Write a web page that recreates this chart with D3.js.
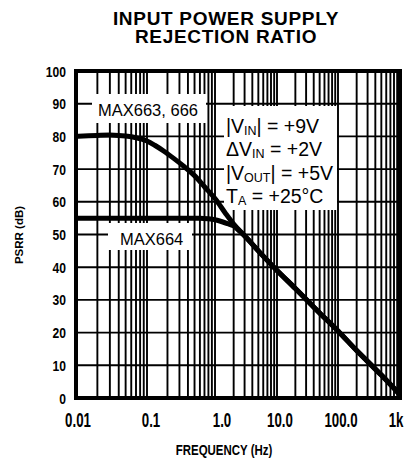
<!DOCTYPE html>
<html>
<head>
<meta charset="utf-8">
<script src="https://cdn.jsdelivr.net/npm/d3@7"></script>
<style>
  body { margin: 0; background: #fff; }
  svg { display: block; }
</style>
</head>
<body>
<svg id="chart"></svg>
<script>
// data
var freqTicks = [0.01, 0.1, 1, 10, 100, 1000];
var freqTickLabels = ['0.01', '0.1', '1.0', '10.0', '100.0', '1k'];
var psrrTicks = [0, 10, 20, 30, 40, 50, 60, 70, 80, 90, 100];

var max663Freq = [0.01, 0.015, 0.02, 0.03, 0.04, 0.05, 0.07, 0.1, 0.13, 0.18, 0.25, 0.35, 0.5, 0.7, 1, 1.5, 2, 3, 5, 10, 20, 50, 100, 200, 500, 1000];
var max663Psrr = [80, 80.2, 80.3, 80.4, 80.3, 80.1, 79.6, 78.6, 77.3, 75.4, 73.2, 70.8, 68, 64.6, 61, 56.3, 53.2, 49.6, 45, 39, 33.5, 26, 20.5, 14.5, 7, 1];

var max664Freq = [0.01, 0.1, 0.3, 0.6, 0.8, 1, 1.3, 1.6, 2, 2.5, 3, 5, 10, 20, 50, 100, 200, 500, 1000];
var max664Psrr = [55, 55, 55, 55, 54.8, 54.5, 53.9, 53.3, 52.6, 51, 49.6, 45, 39, 33.5, 26, 20.5, 14.5, 7, 1];

var W = 412, H = 459;
var sans = "'Liberation Sans', Arial, sans-serif";

var svg = d3.select('#chart').attr('width', W).attr('height', H);

var x = d3.scaleLog().domain(freqTicks).range([76, 147, 215, 277, 338, 400]);
var y = d3.scaleLinear().domain([0, 100]).range([398, 71]);

// condensed bold text, like the datasheet's narrow face
function narrowText(px, py, size, sx, anchor, txt) {
  return svg.append('g')
      .attr('transform', 'translate(' + px + ',' + py + ') scale(' + sx + ',1)')
    .append('text')
      .attr('text-anchor', anchor)
      .attr('font-family', sans)
      .attr('font-weight', 'bold')
      .attr('font-size', size)
      .text(txt);
}

// title
var title = svg.append('text')
    .attr('text-anchor', 'middle')
    .attr('font-family', sans)
    .attr('font-weight', 'bold')
    .attr('font-size', 19)
    .attr('letter-spacing', 0.7);
title.append('tspan').attr('x', 226).attr('y', 25).text('INPUT POWER SUPPLY');
title.append('tspan').attr('x', 226).attr('y', 43).text('REJECTION RATIO');

// grid
var minor = [];
freqTicks.slice(0, -1).forEach(function(d) {
  for (var k = 1; k < 10; k++) minor.push(d * k);
});

var grid = svg.append('g').attr('stroke', '#000').attr('stroke-width', 1.9);
grid.selectAll('.v')
    .data(minor)
    .enter().append('line')
    .attr('class', 'v')
    .attr('x1', function(d) { return x(d); })
    .attr('x2', function(d) { return x(d); })
    .attr('y1', y(0))
    .attr('y2', y(100));

grid.selectAll('.h')
    .data(psrrTicks)
    .enter().append('line')
    .attr('class', 'h')
    .attr('x1', x(0.01))
    .attr('x2', x(1000))
    .attr('y1', function(d) { return y(d); })
    .attr('y2', function(d) { return y(d); });

// label boxes knock out the grid
svg.append('rect').attr('x', 92).attr('y', 94).attr('width', 114).attr('height', 29).attr('fill', '#fff');
svg.append('rect').attr('x', 108).attr('y', 223).attr('width', 84).attr('height', 27).attr('fill', '#fff');
svg.append('rect').attr('x', 224).attr('y', 106).attr('width', 113).attr('height', 104).attr('fill', '#fff');

// frame
svg.append('rect')
    .attr('x', x(0.01))
    .attr('y', y(100))
    .attr('width', x(1000) - x(0.01))
    .attr('height', y(0) - y(100))
    .attr('fill', 'none')
    .attr('stroke', '#000')
    .attr('stroke-width', 4);

// curves
var line = d3.line()
    .x(function(d) { return x(d[0]); })
    .y(function(d) { return y(d[1]); })
    .curve(d3.curveMonotoneX);

svg.append('path')
    .datum(d3.zip(max664Freq, max664Psrr))
    .attr('d', line)
    .attr('fill', 'none')
    .attr('stroke', '#000')
    .attr('stroke-width', 5);

svg.append('path')
    .datum(d3.zip(max663Freq, max663Psrr))
    .attr('d', line)
    .attr('fill', 'none')
    .attr('stroke', '#000')
    .attr('stroke-width', 5);

// y tick labels
psrrTicks.forEach(function(d) {
  narrowText(66, y(d) + 5.5, 15.5, 0.78, 'end', d);
});

// x tick labels
var xLabelShift = [2, 4, 7, 3, 3, -4];
freqTicks.forEach(function(d, i) {
  narrowText(x(d) + xLabelShift[i], 427, 19.5, 0.68, 'middle', freqTickLabels[i]);
});

// axis titles
narrowText(224, 455, 15.5, 0.74, 'middle', 'FREQUENCY (Hz)');

svg.append('text')
    .attr('transform', 'translate(23,235) rotate(-90)')
    .attr('text-anchor', 'middle')
    .attr('font-family', sans)
    .attr('font-weight', 'bold')
    .attr('font-size', 11.5)
    .text('PSRR (dB)');

// curve labels
svg.append('text')
    .attr('x', 98).attr('y', 116)
    .attr('font-family', sans).attr('font-size', 16.5)
    .text('MAX663, 666');

svg.append('text')
    .attr('x', 120).attr('y', 245)
    .attr('font-family', sans).attr('font-size', 16.5)
    .text('MAX664');

// conditions
var cond = [
  ['|V', 'IN', '| = +9V'],
  ['\u0394V', 'IN', ' = +2V'],
  ['|V', 'OUT', '| = +5V'],
  ['T', 'A', ' = +25\u00B0C']
];
var condY = [133, 156, 180, 203];
cond.forEach(function(c, i) {
  var t = svg.append('text')
      .attr('x', 226).attr('y', condY[i])
      .attr('font-family', sans).attr('font-size', 19.5);
  t.append('tspan').text(c[0]);
  t.append('tspan').attr('font-size', 12.5).attr('dy', 2).text(c[1]);
  t.append('tspan').attr('dy', -2).text(c[2]);
});
</script>
</body>
</html>
